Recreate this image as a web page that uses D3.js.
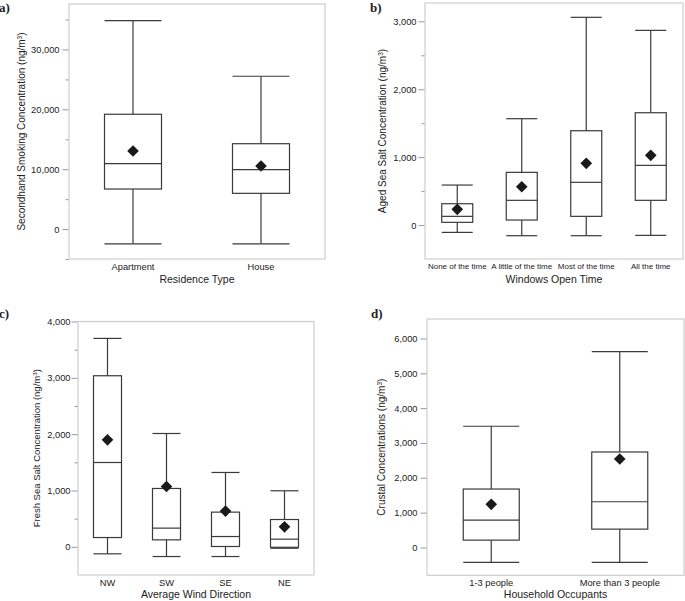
<!DOCTYPE html>
<html>
<head>
<meta charset="utf-8">
<script src="https://cdn.jsdelivr.net/npm/d3@7"></script>
<style>
  body { margin: 0; background: #fff; }
  svg { display: block; }
  text { font-family: "Liberation Sans", Arial, sans-serif; fill: #222; }
</style>
</head>
<body>
<svg id="chart" width="685" height="601"></svg>
<script>
// ---------- Data ----------
// a) Residence type
const catsA = ["Apartment", "House"];
const lowA = [-2460, -2460];
const q1A = [6690, 5970];
const medA = [10920, 9920];
const q3A = [19180, 14260];
const highA = [34830, 25530];
const meanA = [13040, 10540];
const ticksA = [0, 10000, 20000, 30000];
const minorA = [-5000, 5000, 15000, 25000, 35000];

// b) Windows open time
const catsB = ["None of the time", "A little of the time", "Most of the time", "All the time"];
const lowB = [-108, -157, -157, -152];
const q1B = [40, 74, 128, 364];
const medB = [128, 364, 629, 879];
const q3B = [314, 776, 1389, 1654];
const highB = [589, 1566, 3059, 2867];
const meanB = [231, 564, 909, 1027];
const ticksB = [0, 1000, 2000, 3000];
const minorB = [500, 1500, 2500];

// c) Average wind direction
const catsC = ["NW", "SW", "SE", "NE"];
const lowC = [-124, -172, -172, -25];
const q1C = [165, 124, 6, -8];
const medC = [1497, 332, 183, 136];
const q3C = [3037, 1036, 616, 485];
const highC = [3700, 2012, 1320, 995];
const meanC = [1900, 1071, 634, 355];
const ticksC = [0, 1000, 2000, 3000, 4000];
const minorC = [500, 1500, 2500, 3500];

// d) Household occupants
const catsD = ["1-3 people", "More than 3 people"];
const lowD = [-431, -431];
const q1D = [210, 526];
const medD = [785, 1312];
const q3D = [1677, 2741];
const highD = [3480, 5626];
const meanD = [1237, 2540];
const ticksD = [0, 1000, 2000, 3000, 4000, 5000, 6000];
const minorD = [];

// ---------- Drawing ----------
const svg = d3.select("#chart");
const fmt = d3.format(",");
const boxColor = "#3a3a3a";

function panel(cfg) {
  const g = svg.append("g");
  const {x0, x1, y0, y1} = cfg.frame;
  const x = d3.scaleBand().domain(cfg.cats).range([x0, x1]);
  const y = d3.scaleLinear().domain(cfg.domain).range([y1, y0]);

  // frame
  g.append("rect").attr("x", x0).attr("y", y0)
    .attr("width", x1 - x0).attr("height", y1 - y0)
    .attr("fill", "none").attr("stroke", "#cdcdcd").attr("stroke-width", 1.2);

  // y axis major
  const ya = g.append("g").attr("transform", `translate(${x0 - 0.5},0)`)
    .call(d3.axisLeft(y).tickValues(cfg.ticks).tickSize(6).tickPadding(cfg.tickPad).tickFormat(fmt));
  ya.select(".domain").remove();
  ya.selectAll(".tick line").attr("stroke", "#9a9a9a");
  ya.selectAll(".tick text").style("font-size", cfg.tickFont + "px").attr("fill", "#222")
    .style("font-family", '"Liberation Sans", Arial, sans-serif');
  // minor
  const ym = g.append("g").attr("transform", `translate(${x0 - 0.5},0)`)
    .call(d3.axisLeft(y).tickValues(cfg.minor).tickSize(3).tickFormat(""));
  ym.select(".domain").remove();
  ym.selectAll(".tick line").attr("stroke", "#9a9a9a");

  // x axis labels
  const xa = g.append("g").attr("transform", `translate(0,${y1})`)
    .call(d3.axisBottom(x).tickSize(0).tickPadding(cfg.xPad));
  xa.select(".domain").remove();
  xa.selectAll(".tick text").style("font-size", cfg.xFont + "px").attr("fill", "#222")
    .style("font-family", '"Liberation Sans", Arial, sans-serif');

  // axis titles
  g.append("text").attr("x", (x0 + x1) / 2).attr("y", cfg.xTitleY)
    .attr("text-anchor", "middle").style("font-size", "10.5px").text(cfg.xTitle);
  const yt = g.append("text")
    .attr("transform", `translate(${cfg.yTitleX},${(y0 + y1) / 2}) rotate(-90)`)
    .attr("text-anchor", "middle").style("font-size", cfg.yTitleFont + "px");
  yt.append("tspan").text(cfg.yTitle);
  yt.append("tspan").text("(ng/m");
  yt.append("tspan").text("3").style("font-size", (cfg.yTitleFont * 0.65) + "px").attr("dy", "-0.45em");
  yt.append("tspan").text(")").attr("dy", "0.3em");

  // panel label
  g.append("text").attr("x", cfg.label.x).attr("y", cfg.label.y)
    .style("font-family", '"Liberation Serif", "Times New Roman", serif')
    .style("font-weight", "bold").style("font-size", "13px").text(cfg.label.t);

  // boxes
  const bw = cfg.boxW;
  cfg.cats.forEach((c, i) => {
    const cx = x(c) + x.bandwidth() / 2;
    const bg = g.append("g").attr("stroke", boxColor).attr("stroke-width", 1.2).attr("fill", "none");
    // whiskers
    bg.append("line").attr("x1", cx).attr("x2", cx).attr("y1", y(cfg.high[i])).attr("y2", y(cfg.q3[i]));
    bg.append("line").attr("x1", cx).attr("x2", cx).attr("y1", y(cfg.q1[i])).attr("y2", y(cfg.low[i]));
    bg.append("line").attr("x1", cx - bw / 2).attr("x2", cx + bw / 2).attr("y1", y(cfg.high[i])).attr("y2", y(cfg.high[i]));
    bg.append("line").attr("x1", cx - bw / 2).attr("x2", cx + bw / 2).attr("y1", y(cfg.low[i])).attr("y2", y(cfg.low[i]));
    // box
    bg.append("rect").attr("x", cx - bw / 2).attr("y", y(cfg.q3[i]))
      .attr("width", bw).attr("height", y(cfg.q1[i]) - y(cfg.q3[i]));
    // median
    bg.append("line").attr("x1", cx - bw / 2).attr("x2", cx + bw / 2)
      .attr("y1", y(cfg.med[i])).attr("y2", y(cfg.med[i]));
    // mean diamond
    g.append("path")
      .attr("d", d3.symbol(d3.symbolSquare, cfg.diamond)())
      .attr("transform", `translate(${cx},${y(cfg.mean[i])}) rotate(45)`)
      .attr("fill", "#1a1a1a");
  });
}

panel({
  frame: {x0: 69, x1: 325, y0: 4, y1: 259},
  cats: catsA, domain: [-5000, 37600],
  low: lowA, q1: q1A, med: medA, q3: q3A, high: highA, mean: meanA,
  ticks: ticksA, minor: minorA, tickPad: 3, tickFont: 9.3,
  xPad: 4.5, xFont: 9.3, xTitle: "Residence Type", xTitleY: 283,
  yTitle: "Secondhand Smoking Concentration ", yTitleX: 25, yTitleFont: 10,
  label: {x: -1, y: 12, t: "a)"}, boxW: 57, diamond: 68
});

panel({
  frame: {x0: 425, x1: 683, y0: 3, y1: 259},
  cats: catsB, domain: [-500, 3270],
  low: lowB, q1: q1B, med: medB, q3: q3B, high: highB, mean: meanB,
  ticks: ticksB, minor: minorB, tickPad: 2, tickFont: 9.3,
  xPad: 4.5, xFont: 8, xTitle: "Windows Open Time", xTitleY: 283,
  yTitle: "Aged Sea Salt Concentration ", yTitleX: 386, yTitleFont: 10,
  label: {x: 370, y: 12, t: "b)"}, boxW: 31, diamond: 68
});

panel({
  frame: {x0: 78, x1: 314, y0: 321.5, y1: 575},
  cats: catsC, domain: [-500, 4000],
  low: lowC, q1: q1C, med: medC, q3: q3C, high: highC, mean: meanC,
  ticks: ticksC, minor: minorC, tickPad: 1, tickFont: 9.3,
  xPad: 4.5, xFont: 9.3, xTitle: "Average Wind Direction", xTitleY: 598,
  yTitle: "Fresh Sea Salt Concentration ", yTitleX: 40, yTitleFont: 9.5,
  label: {x: -1, y: 318, t: "c)"}, boxW: 28, diamond: 68
});

panel({
  frame: {x0: 427, x1: 684, y0: 319, y1: 575.3},
  cats: catsD, domain: [-800, 6560],
  low: lowD, q1: q1D, med: medD, q3: q3D, high: highD, mean: meanD,
  ticks: ticksD, minor: minorD, tickPad: 3, tickFont: 9.3,
  xPad: 4.5, xFont: 9.3, xTitle: "Household Occupants", xTitleY: 598,
  yTitle: "Crustal Concentrations ", yTitleX: 385, yTitleFont: 10,
  label: {x: 371, y: 318, t: "d)"}, boxW: 56, diamond: 68
});
</script>
</body>
</html>
